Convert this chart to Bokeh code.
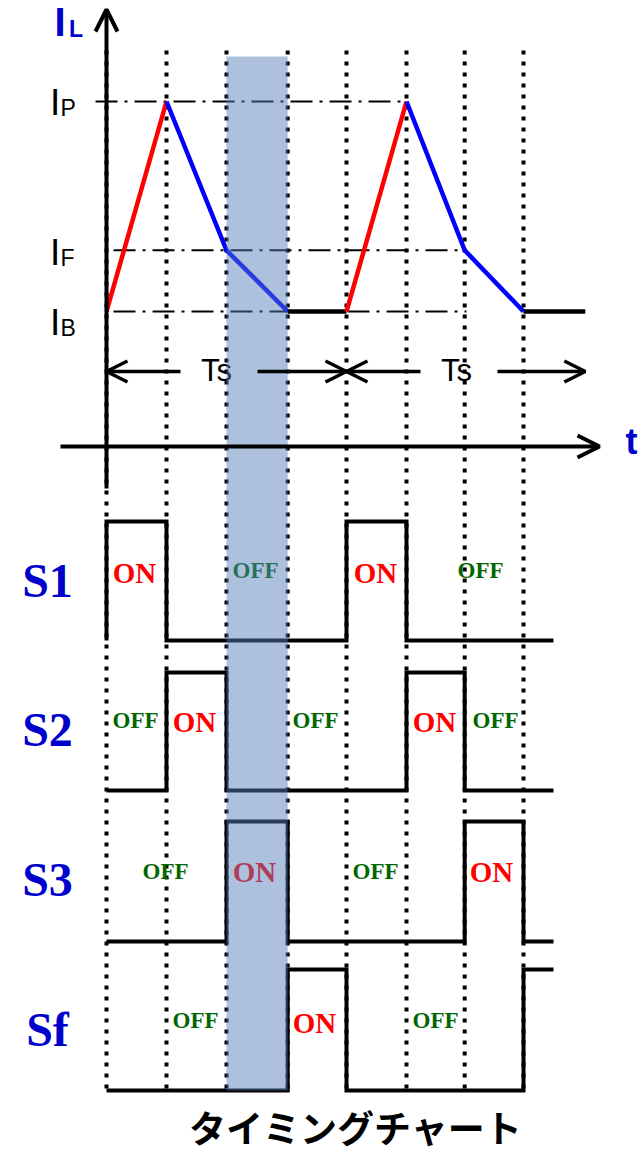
from bokeh.plotting import figure
from bokeh.models import Range1d, Arrow, OpenHead
from bokeh.core.properties import value
from bokeh.embed import file_html
from bokeh.resources import INLINE

# ---------------- data ----------------
# switching instants (time units), shown as dotted verticals
edge_times = [0, 1, 2, 3.02, 4, 5, 5.97, 6.95]
signal_end = 7.45
il_end = 7.98
period_bounds = [0, 4, 7.98]

# inductor current levels (arbitrary units)
IB, IF, IP = 2.25, 3.27, 5.75
level_names = ["P", "F", "B"]
level_values = [IP, IF, IB]

# inductor current waveform
il_t = [0, 1, 2, 3.02, 4, 5, 5.97, 6.95, 7.98]
il_v = [IB, IP, IF, IB, IB, IP, IF, IB, IB]
il_seg_color = ["red", "blue", "blue", "black", "red", "blue", "blue", "black"]

# switch states: ON intervals per switch
signal_names = ["S1", "S2", "S3", "Sf"]
on_intervals = {
    "S1": [(0, 1), (4, 5)],
    "S2": [(1, 2), (5, 5.97)],
    "S3": [(2, 3.02), (5.97, 6.95)],
    "Sf": [(3.02, 4), (6.95, 7.45)],
}
# ON / OFF annotations per switch
state_texts = {
    "S1": ["ON", "OFF", "ON", "OFF"],
    "S2": ["OFF", "ON", "OFF", "ON", "OFF"],
    "S3": ["OFF", "ON", "OFF", "ON"],
    "Sf": ["OFF", "ON", "OFF"],
}
highlight = (2, 3.02)  # shaded interval (S3 ON)
title_text = "タイミングチャート"

# ---------------- layout (pixels) ----------------
PX0, PX1 = 0, 642
PY0, PY1 = 0, 1155
T0_PX, PX_PER_T = 106, 60.0
AXIS_Y = 446
row_low = [640, 790, 941, 1090]
row_high = [521, 672, 821, 969]
state_x = {
    "S1": [134, 255, 375, 480],
    "S2": [135, 194, 315, 434, 495],
    "S3": [165, 254, 375, 491],
    "Sf": [195, 314, 435],
}
on_base = [584, 733, 883, 1034]
off_base = [579, 729, 880, 1029]
s_label_base = [599, 748, 898, 1048]
K = 0.4  # baseline offset (em) for middle-anchored text


def mid(base, size):
    return base - K * size


x_range = Range1d((PX0 - T0_PX) / PX_PER_T, (PX1 - T0_PX) / PX_PER_T)
y_range = Range1d(PY1, PY0)

p = figure(width=PX1 - PX0, height=PY1 - PY0, x_range=x_range, y_range=y_range,
           output_backend="svg", toolbar_location=None, min_border=0,
           x_axis_location=None, y_axis_location=None)
p.grid.visible = False
p.outline_line_color = None
p.background_fill_color = "white"
p.border_fill_color = "white"

p.extra_x_ranges = {"px": Range1d(PX0, PX1)}
p.extra_y_ranges = {"il": Range1d((AXIS_Y - PY1) / PX_PER_T, (AXIS_Y - PY0) / PX_PER_T)}
for k, name in enumerate(signal_names):
    L, H = row_low[k], row_high[k]
    h = L - H
    p.extra_y_ranges[name] = Range1d((L - PY1) / h, (L - PY0) / h)

SERIF = value("Liberation Serif")
SANS = value("Liberation Sans")

# dotted vertical lines
p.segment(x0=edge_times, y0=[50] * len(edge_times), x1=edge_times, y1=[1090] * len(edge_times),
          line_color="black", line_width=4, line_dash="4 7")

# dash-dot reference levels
ref_start = [-0.183, 0.117, 0.117]
ref_end = [5, 5.97, 6.0]
p.segment(x0=ref_start, y0=level_values, x1=ref_end, y1=level_values, y_range_name="il",
          line_color="black", line_width=2, line_dash="22 7 3 7")

# inductor current waveform, grouped by colour
xs, ys, cols = [], [], []
i = 0
while i < len(il_seg_color):
    j = i
    while j + 1 < len(il_seg_color) and il_seg_color[j + 1] == il_seg_color[i]:
        j += 1
    xs.append(il_t[i:j + 2])
    ys.append(il_v[i:j + 2])
    cols.append(il_seg_color[i])
    i = j + 1
p.multi_line(xs=xs, ys=ys, line_color=cols, line_width=4.5, line_join="miter",
             y_range_name="il")

# switch waveforms
for k, name in enumerate(signal_names):
    pts = [(0, 0)]
    for a, b in on_intervals[name]:
        pts += [(a, 0), (a, 1), (b, 1)]
        if b < signal_end:
            pts.append((b, 0))
    if pts[-1][0] < signal_end:
        pts.append((signal_end, 0))
    p.line([q[0] for q in pts], [q[1] for q in pts], y_range_name=name,
           line_color="black", line_width=4, line_join="miter")

# axes
p.add_layout(Arrow(end=OpenHead(size=22, line_width=4, line_color="black"),
                   x_start=60, y_start=AXIS_Y, x_end=599, y_end=AXIS_Y,
                   line_width=4, line_color="black", x_range_name="px"))
p.add_layout(Arrow(end=OpenHead(size=22, line_width=4, line_color="black"),
                   x_start=106, y_start=488, x_end=106, y_end=9,
                   line_width=4, line_color="black", x_range_name="px"))

# Ts period arrows
for a, b in zip(period_bounds[:-1], period_bounds[1:]):
    p.add_layout(Arrow(end=OpenHead(size=21, line_width=3.5, line_color="black"),
                       x_start=a + 74 / PX_PER_T, y_start=371, x_end=a, y_end=371,
                       line_width=3.5, line_color="black"))
    p.add_layout(Arrow(end=OpenHead(size=21, line_width=3.5, line_color="black"),
                       x_start=a + 151 / PX_PER_T, y_start=371, x_end=b, y_end=371,
                       line_width=3.5, line_color="black"))
    p.text(x=[a + 110 / PX_PER_T], y=[mid(382, 31)], text=["Ts"], text_font=SANS,
           text_font_size="31px", text_align="center", text_baseline="middle",
           text_color="black")

# current labels
p.text(x=[54], y=[mid(37.5, 40)], text=["I"], x_range_name="px", text_font=SANS,
       text_font_style="bold", text_font_size="40px", text_color="#0000cc",
       text_baseline="middle")
p.text(x=[68.5], y=[mid(37.5, 23)], text=["L"], x_range_name="px", text_font=SANS,
       text_font_style="bold", text_font_size="23px", text_color="#0000cc",
       text_baseline="middle")
lab_base = [117, 267, 337]
p.text(x=[49.5] * 3, y=[mid(b, 37) for b in lab_base], text=["I"] * 3, x_range_name="px",
       text_font=SANS, text_font_size="37px", text_color="black", text_baseline="middle")
p.text(x=[60] * 3, y=[mid(b, 23) for b in lab_base], text=level_names, x_range_name="px",
       text_font=SANS, text_font_size="23px", text_color="black", text_baseline="middle")
p.text(x=[631], y=[mid(455, 36)], text=["t"], x_range_name="px", text_font=SANS,
       text_font_style="bold", text_font_size="36px", text_color="#0000cc",
       text_align="center", text_baseline="middle")

# switch names and ON/OFF labels
p.text(x=[47] * 4, y=[mid(b, 48) for b in s_label_base], text=signal_names, x_range_name="px",
       text_font=SERIF, text_font_style="bold", text_font_size="48px", text_color="#0000cc",
       text_align="center", text_baseline="middle")
for k, name in enumerate(signal_names):
    for txt, xc in zip(state_texts[name], state_x[name]):
        on = txt == "ON"
        size = 29 if on else 23
        p.text(x=[xc], y=[mid(on_base[k] if on else off_base[k], size)], text=[txt],
               x_range_name="px", text_font=SERIF, text_font_style="bold",
               text_font_size=f"{size}px",
               text_color="#ff0000" if on else "#006600",
               text_align="center", text_baseline="middle")

# shaded interval overlay
p.quad(left=[highlight[0]], right=[highlight[1]], top=[56], bottom=[1090],
       fill_color="#537dbb", fill_alpha=0.48, line_color=None)

# title
p.text(x=[355], y=[1126], text=[title_text], x_range_name="px",
       text_font=value("Noto Sans CJK JP"), text_font_style="bold", text_font_size="37px",
       text_color="black", text_align="center", text_baseline="middle")

open("out.html", "w").write(file_html(p, INLINE))
